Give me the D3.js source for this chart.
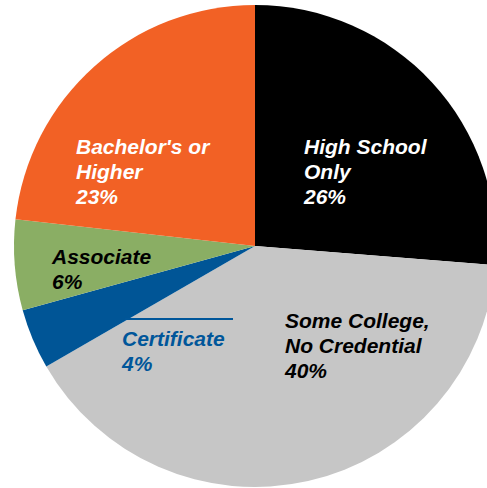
<!DOCTYPE html>
<html>
<head>
<meta charset="utf-8">
<script src="https://cdn.jsdelivr.net/npm/d3@7"></script>
<style>
  body { margin: 0; background: #fff; }
  svg text { font-family: "Liberation Sans", Arial, sans-serif; font-weight: bold; font-style: italic; font-size: 21px; }
</style>
</head>
<body>
<div id="chart"></div>
<script>
// slices, clockwise from 12 o'clock
var categories = ["High School Only", "Some College, No Credential", "Certificate", "Associate", "Bachelor's or Higher"];
var values = [26, 40, 4, 6, 23];
var labelLines = [
    ["High School", "Only", "26%"],
    ["Some College,", "No Credential", "40%"],
    ["Certificate", "4%"],
    ["Associate", "6%"],
    ["Bachelor's or", "Higher", "23%"]
];

var fills = ["#000000", "#c6c6c6", "#005596", "#8aae64", "#f26125"];
var textColors = ["#ffffff", "#000000", "#00569a", "#000000", "#ffffff"];
// where the first line of each label sits (left edge, baseline)
var labelAt = [[304, 154], [285, 328], [122, 346], [52, 264], [76, 154]];

var width = 487, height = 488;
var cx = 255, cy = 246, radius = 241;

var svg = d3.select("#chart").append("svg")
    .attr("width", width)
    .attr("height", height);

var pie = d3.pie().sort(null).value(function(d) { return d; });
var arc = d3.arc().innerRadius(0).outerRadius(radius);

var g = svg.append("g").attr("transform", "translate(" + cx + "," + cy + ")");

g.selectAll("path")
    .data(pie(values))
    .enter().append("path")
    .attr("d", arc)
    .attr("fill", function(d, i) { return fills[i]; });

// leader line above the certificate label
svg.append("line")
    .attr("x1", 125).attr("x2", 233)
    .attr("y1", 319).attr("y2", 319)
    .attr("stroke", "#00569a")
    .attr("stroke-width", 2);

var labels = svg.selectAll("text.lbl")
    .data(categories)
    .enter().append("text")
    .attr("class", "lbl")
    .attr("x", function(d, i) { return labelAt[i][0]; })
    .attr("y", function(d, i) { return labelAt[i][1]; })
    .attr("fill", function(d, i) { return textColors[i]; });

labels.each(function(d, i) {
    var t = d3.select(this);
    labelLines[i].forEach(function(line, j) {
        t.append("tspan")
            .attr("x", labelAt[i][0])
            .attr("dy", j === 0 ? 0 : 25)
            .text(line);
    });
});
</script>
</body>
</html>
